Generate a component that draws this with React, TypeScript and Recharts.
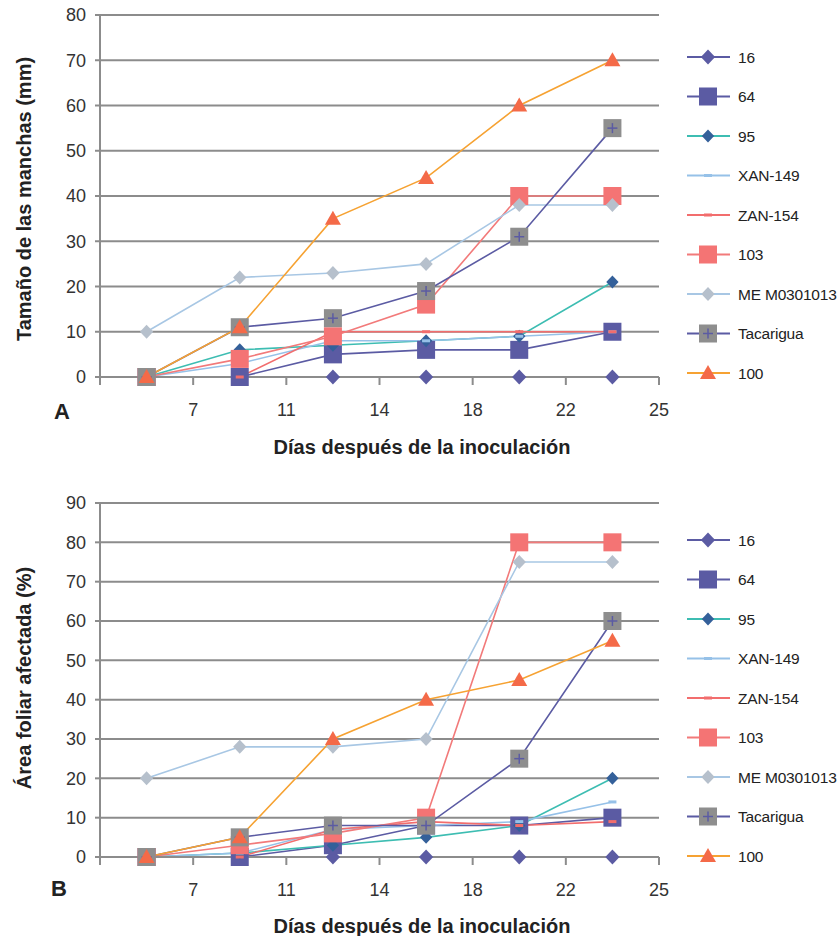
import { LineChart, Line, XAxis, YAxis, CartesianGrid } from "recharts";

// x categories (día de lectura) and the series names
const days = ["7", "11", "14", "18", "22", "25"];
const seriesNames = ["16", "64", "95", "XAN-149", "ZAN-154", "103", "ME M0301013", "Tacarigua", "100"];

// Panel A - tamaño de las manchas (mm)
const a16 = [0, 0, 0, 0, 0, 0];
const a64 = [0, 0, 5, 6, 6, 10];
const a95 = [0, 6, 7, 8, 9, 21];
const aXan149 = [0, 3, 8, 8, 9, 10];
const aZan154 = [0, 0, 10, 10, 10, 10];
const a103 = [0, 4, 9, 16, 40, 40];
const aMe = [10, 22, 23, 25, 38, 38];
const aTacarigua = [0, 11, 13, 19, 31, 55];
const a100 = [0, 11, 35, 44, 60, 70];

// Panel B - área foliar afectada (%)
const b16 = [0, 0, 0, 0, 0, 0];
const b64 = [0, 0, 3, 8, 8, 10];
const b95 = [0, 1, 3, 5, 8, 20];
const bXan149 = [0, 1, 7, 8, 9, 14];
const bZan154 = [0, 0, 7, 9, 8, 9];
const b103 = [0, 3, 6, 10, 80, 80];
const bMe = [20, 28, 28, 30, 75, 75];
const bTacarigua = [0, 5, 8, 8, 25, 60];
const b100 = [0, 5, 30, 40, 45, 55];

const ticksA = [0, 10, 20, 30, 40, 50, 60, 70, 80];
const ticksB = [0, 10, 20, 30, 40, 50, 60, 70, 80, 90];

const seriesA = [a16, a64, a95, aXan149, aZan154, a103, aMe, aTacarigua, a100];
const seriesB = [b16, b64, b95, bXan149, bZan154, b103, bMe, bTacarigua, b100];

const buildRows = (series: number[][]) =>
  days.map((day, i) => {
    const row: Record<string, any> = { day };
    seriesNames.forEach((name, k) => {
      row[name] = series[k][i];
    });
    return row;
  });

const dataA = buildRows(seriesA);
const dataB = buildRows(seriesB);

const FONT = "'Liberation Sans', Arial, sans-serif";
const GRID = "#8c8c8c";
const PURPLE = "#5b5ba3";

type Marker = "diamond" | "square" | "squarePlus" | "triangle" | "dash";

const STYLES: Record<string, { line: string; marker: Marker; fill: string; size: number }> = {
  "16": { line: PURPLE, marker: "diamond", fill: PURPLE, size: 15 },
  "64": { line: PURPLE, marker: "square", fill: PURPLE, size: 18 },
  "95": { line: "#3dbdb2", marker: "diamond", fill: "#34609a", size: 13 },
  "XAN-149": { line: "#96c1e8", marker: "dash", fill: "#96c1e8", size: 8 },
  "ZAN-154": { line: "#f26d6d", marker: "dash", fill: "#f26d6d", size: 8 },
  "103": { line: "#f27a7a", marker: "square", fill: "#f47474", size: 18 },
  "ME M0301013": { line: "#a8c7e4", marker: "diamond", fill: "#b6c0cc", size: 14 },
  Tacarigua: { line: PURPLE, marker: "squarePlus", fill: "#8e8e8e", size: 18 },
  "100": { line: "#f6a232", marker: "triangle", fill: "#f46a48", size: 16 },
};

const MarkerShape = ({ cx, cy, name }: { cx: number; cy: number; name: string }) => {
  const st = STYLES[name];
  const h = st.size / 2;
  if (st.marker === "diamond") {
    const w = h * 0.95;
    return <polygon points={`${cx},${cy - h} ${cx + w},${cy} ${cx},${cy + h} ${cx - w},${cy}`} fill={st.fill} />;
  }
  if (st.marker === "square") {
    return <rect x={cx - h} y={cy - h} width={st.size} height={st.size} fill={st.fill} />;
  }
  if (st.marker === "squarePlus") {
    return (
      <g>
        <rect x={cx - h} y={cy - h} width={st.size} height={st.size} fill={st.fill} />
        <line x1={cx - 5} y1={cy} x2={cx + 5} y2={cy} stroke={PURPLE} strokeWidth={1.5} />
        <line x1={cx} y1={cy - 5} x2={cx} y2={cy + 5} stroke={PURPLE} strokeWidth={1.5} />
      </g>
    );
  }
  if (st.marker === "triangle") {
    return <polygon points={`${cx},${cy - h} ${cx + h},${cy + h * 0.75} ${cx - h},${cy + h * 0.75}`} fill={st.fill} />;
  }
  return <rect x={cx - h} y={cy - 1.5} width={st.size} height={3} fill={st.fill} />;
};

const dotFor = (name: string) => (props: any) =>
  <MarkerShape key={`${name}-${props.index}`} cx={props.cx} cy={props.cy} name={name} />;

const PLOT_W = 559;
const HALF_BAND = PLOT_W / days.length / 2;

// labels sit on the band edges, like the original spreadsheet chart
const DayTick = (props: any) => {
  const { x, y, payload, index } = props;
  const bx = x + HALF_BAND;
  return (
    <g>
      <line x1={bx} y1={y} x2={bx} y2={y + 8} stroke={GRID} strokeWidth={2} />
      {index === 0 && <line x1={x - HALF_BAND} y1={y} x2={x - HALF_BAND} y2={y + 8} stroke={GRID} strokeWidth={2} />}
      <text x={bx} y={y + 33} textAnchor="middle" dominantBaseline="central" fill="#333" fontSize={18} fontFamily={FONT}>
        {payload.value}
      </text>
    </g>
  );
};

const Legend = ({ top }: { top: number }) => (
  <svg style={{ position: "absolute", left: 680, top: top - 20, overflow: "visible" }} width={160} height={360}>
    {seriesNames.map((name, i) => {
      const y = 20 + i * 39.5;
      const st = STYLES[name];
      return (
        <g key={name}>
          <line x1={7} y1={y} x2={50} y2={y} stroke={st.line} strokeWidth={2} />
          <MarkerShape cx={28} cy={y} name={name} />
          <text
            x={58}
            y={y}
            dominantBaseline="central"
            fontSize={15.5}
            letterSpacing={-0.2}
            fill="#222"
            fontFamily={FONT}
          >
            {name}
          </text>
        </g>
      );
    })}
  </svg>
);

const Panel = ({
  data,
  ticks,
  max,
  marginTop,
  marginBottom,
}: {
  data: any[];
  ticks: number[];
  max: number;
  marginTop: number;
  marginBottom: number;
}) => (
  <LineChart width={840} height={468} data={data} margin={{ top: marginTop, right: 181, left: 40, bottom: marginBottom }}>
    <CartesianGrid vertical={false} stroke={GRID} strokeWidth={2} />
    <XAxis
      dataKey="day"
      type="category"
      scale="band"
      height={40}
      interval={0}
      tickSize={0}
      tickMargin={0}
      tickLine={false}
      axisLine={{ stroke: GRID, strokeWidth: 2 }}
      tick={<DayTick />}
    />
    <YAxis
      width={60}
      domain={[0, max]}
      ticks={ticks}
      interval={0}
      tickSize={5}
      tickMargin={9}
      axisLine={{ stroke: GRID, strokeWidth: 2 }}
      tickLine={{ stroke: GRID, strokeWidth: 2 }}
      tick={{ fill: "#333", fontSize: 18, fontFamily: FONT }}
    />
    {seriesNames.map((name) => (
      <Line
        key={name}
        dataKey={name}
        stroke={STYLES[name].line}
        strokeWidth={1.6}
        dot={dotFor(name)}
        activeDot={false}
        isAnimationActive={false}
      />
    ))}
  </LineChart>
);

const titleStyle: React.CSSProperties = {
  position: "absolute",
  fontFamily: FONT,
  fontWeight: "bold",
  fontSize: 20,
  color: "#222",
  whiteSpace: "nowrap",
};

const App = () => (
  <div style={{ position: "absolute", left: 0, top: 0, width: 840, height: 936, background: "#fff", overflow: "hidden" }}>
    <div style={{ position: "absolute", left: 0, top: 0 }}>
      <Panel data={dataA} ticks={ticksA} max={80} marginTop={15} marginBottom={51} />
    </div>
    <div style={{ position: "absolute", left: 0, top: 468 }}>
      <Panel data={dataB} ticks={ticksB} max={90} marginTop={35} marginBottom={39} />
    </div>

    <Legend top={57} />
    <Legend top={540} />

    <div style={{ ...titleStyle, left: 24, top: 199, transform: "translate(-50%, -50%) rotate(-90deg)" }}>
      Tamaño de las manchas (mm)
    </div>
    <div style={{ ...titleStyle, left: 24, top: 678, transform: "translate(-50%, -50%) rotate(-90deg)" }}>
      Área foliar afectada (%)
    </div>

    <div style={{ ...titleStyle, left: 422, top: 447, transform: "translate(-50%, -50%)" }}>
      Días después de la inoculación
    </div>
    <div style={{ ...titleStyle, left: 422, top: 926, transform: "translate(-50%, -50%)" }}>
      Días después de la inoculación
    </div>

    <div style={{ ...titleStyle, fontSize: 22, left: 62, top: 412, transform: "translate(-50%, -50%)" }}>A</div>
    <div style={{ ...titleStyle, fontSize: 22, left: 59, top: 889, transform: "translate(-50%, -50%)" }}>B</div>
  </div>
);

export default App;
